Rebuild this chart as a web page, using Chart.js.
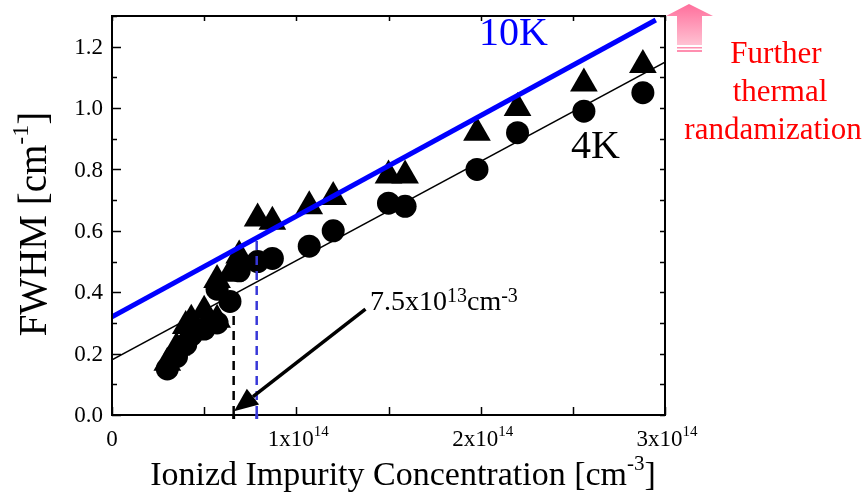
<!DOCTYPE html>
<html>
<head>
<meta charset="utf-8">
<script src="https://cdn.jsdelivr.net/npm/chart.js@4/dist/chart.umd.min.js"></script>
<style>
  html, body { margin: 0; padding: 0; background: #fff; }
  #wrap { width: 868px; height: 502px; }
</style>
</head>
<body>
<div id="wrap"><canvas id="fwhmChart" width="868" height="502"></canvas></div>
<script>
// ionized impurity concentration, in units of 1e14 cm^-3
const conc = [0.30, 0.35, 0.40, 0.43, 0.50, 0.57, 0.57, 0.64, 0.69, 0.79, 0.87, 1.07, 1.20, 1.50, 1.59, 1.98, 2.20, 2.56, 2.88];
const fwhm4K = [0.15, 0.19, 0.23, 0.26, 0.28, 0.30, 0.41, 0.37, 0.47, 0.50, 0.51, 0.55, 0.60, 0.69, 0.68, 0.80, 0.92, 0.99, 1.05];
const fwhm10K = [0.17, 0.22, 0.29, 0.31, 0.34, 0.31, 0.44, 0.46, 0.52, 0.64, 0.63, 0.68, 0.71, 0.78, 0.78, 0.92, 1.00, 1.08, 1.14];

// fitted lines and marker lines
const fit4K = [[0, 0.18], [3, 1.15]];
const fit10K = [[0, 0.32], [2.95, 1.287]];
const markBlack = [[0.66, 0], [0.66, 0.34]];
const markBlue = [[0.785, 0], [0.785, 0.58]];

const yTicks = [0, 0.2, 0.4, 0.6, 0.8, 1.0, 1.2];
const xTicks = [0, 1, 2, 3];
const xTickLabels = ['0', '1x10', '2x10', '3x10'];
const xTickExp = ['', '14', '14', '14'];

const SERIF = '"Liberation Serif", "Times New Roman", serif';

const toPts = (xs, ys) => xs.map((x, i) => ({ x: x, y: ys[i] }));
const pairPts = arr => arr.map(p => ({ x: p[0], y: p[1] }));

// draws text made of normal and superscript parts, left aligned from x
const drawParts = (ctx, parts, x, y) => {
  parts.forEach(p => {
    ctx.font = p.size + 'px ' + SERIF;
    ctx.fillText(p.t, x, y - (p.up || 0));
    x += ctx.measureText(p.t).width;
  });
};
const partsWidth = (ctx, parts) => parts.reduce((w, p) => {
  ctx.font = p.size + 'px ' + SERIF;
  return w + ctx.measureText(p.t).width;
}, 0);

const framePlugin = {
  id: 'frameAndText',
  afterDraw(chart) {
    const ctx = chart.ctx;
    const a = chart.chartArea;
    const xs = chart.scales.x;
    const ys = chart.scales.y;
    ctx.save();

    // frame
    ctx.strokeStyle = '#000';
    ctx.lineWidth = 2;
    ctx.strokeRect(a.left, a.top, a.right - a.left, a.bottom - a.top);

    // inward ticks
    ctx.lineWidth = 1.5;
    ctx.beginPath();
    for (let v = 0; v <= 1.3001; v += 0.1) {
      const py = Math.round(ys.getPixelForValue(v)) + 0.5;
      const major = Math.abs(v * 5 - Math.round(v * 5)) < 1e-6;
      ctx.moveTo(a.left, py); ctx.lineTo(a.left + (major ? 9 : 5), py);
      ctx.moveTo(a.right, py); ctx.lineTo(a.right - 5, py);
    }
    for (let v = 0; v <= 3.0001; v += 0.5) {
      const px = Math.round(xs.getPixelForValue(v)) + 0.5;
      ctx.moveTo(px, a.bottom); ctx.lineTo(px, a.bottom - 8);
      ctx.moveTo(px, a.top); ctx.lineTo(px, a.top + 5);
    }
    ctx.stroke();

    // dashed marker feet on the axis
    ctx.lineWidth = 3;
    ctx.strokeStyle = '#000';
    ctx.beginPath();
    ctx.moveTo(xs.getPixelForValue(markBlack[0][0]), a.bottom - 1);
    ctx.lineTo(xs.getPixelForValue(markBlack[0][0]), a.bottom + 4);
    ctx.stroke();
    ctx.strokeStyle = '#3838d8';
    ctx.beginPath();
    ctx.moveTo(xs.getPixelForValue(markBlue[0][0]), a.bottom - 1);
    ctx.lineTo(xs.getPixelForValue(markBlue[0][0]), a.bottom + 4);
    ctx.stroke();

    // tick labels
    ctx.fillStyle = '#000';
    ctx.font = '23px ' + SERIF;
    ctx.textAlign = 'right';
    ctx.textBaseline = 'middle';
    yTicks.forEach(v => {
      ctx.fillText(v.toFixed(1), a.left - 9, ys.getPixelForValue(v) + 1);
    });
    ctx.textAlign = 'left';
    ctx.textBaseline = 'alphabetic';
    xTicks.forEach((v, i) => {
      const parts = [{ t: xTickLabels[i], size: 23 }];
      if (xTickExp[i]) parts.push({ t: xTickExp[i], size: 15, up: 10 });
      const w = partsWidth(ctx, parts);
      drawParts(ctx, parts, xs.getPixelForValue(v) - w / 2 + (xTickExp[i] ? 2 : 0), a.bottom + 31);
    });

    // axis titles
    const xTitle = [
      { t: 'Ionizd Impurity Concentration [cm', size: 34 },
      { t: '-3', size: 21, up: 15 },
      { t: ']', size: 34 }
    ];
    drawParts(ctx, xTitle, 403 - partsWidth(ctx, xTitle) / 2, 485);

    const yTitle = [
      { t: 'FWHM [cm', size: 39 },
      { t: '-1', size: 24, up: 18 },
      { t: ']', size: 39 }
    ];
    ctx.save();
    ctx.translate(46, 224);
    ctx.rotate(-Math.PI / 2);
    drawParts(ctx, yTitle, -partsWidth(ctx, yTitle) / 2, 0);
    ctx.restore();

    // series labels
    ctx.fillStyle = '#0000ff';
    ctx.font = '40px ' + SERIF;
    ctx.fillText('10K', 479, 45);
    ctx.fillStyle = '#000';
    ctx.fillText('4K', 571, 158);

    // concentration annotation with arrow
    drawParts(ctx, [
      { t: '7.5x10', size: 28 },
      { t: '13', size: 20, up: 8 },
      { t: 'cm', size: 28 },
      { t: '-3', size: 20, up: 8 }
    ], 370, 310);

    const ax0 = xs.getPixelForValue(1.375), ay0 = ys.getPixelForValue(0.345);
    const ax1 = xs.getPixelForValue(0.662), ay1 = ys.getPixelForValue(0.012);
    const ang = Math.atan2(ay1 - ay0, ax1 - ax0);
    const headLen = 24, headW = 10;
    const bx = ax1 - Math.cos(ang) * headLen, by = ay1 - Math.sin(ang) * headLen;
    ctx.strokeStyle = '#000';
    ctx.lineWidth = 3.5;
    ctx.beginPath();
    ctx.moveTo(ax0, ay0);
    ctx.lineTo(bx, by);
    ctx.stroke();
    ctx.fillStyle = '#000';
    ctx.beginPath();
    ctx.moveTo(ax1, ay1);
    ctx.lineTo(bx + Math.sin(ang) * headW, by - Math.cos(ang) * headW);
    ctx.lineTo(bx - Math.sin(ang) * headW, by + Math.cos(ang) * headW);
    ctx.closePath();
    ctx.fill();

    // pink block arrow
    const grad = ctx.createLinearGradient(0, 4, 0, 52);
    grad.addColorStop(0, '#ff6f9c');
    grad.addColorStop(1, '#ffd0dc');
    ctx.fillStyle = grad;
    ctx.beginPath();
    ctx.moveTo(689, 4);
    ctx.lineTo(713, 16);
    ctx.lineTo(702, 16);
    ctx.lineTo(702, 45);
    ctx.lineTo(677, 45);
    ctx.lineTo(677, 16);
    ctx.lineTo(666, 16);
    ctx.closePath();
    ctx.fill();
    ctx.fillStyle = '#ff8fb0';
    ctx.fillRect(677, 47, 25, 1.5);
    ctx.fillRect(677, 50, 25, 2);

    // red note
    ctx.fillStyle = '#ff0000';
    ctx.font = '31px ' + SERIF;
    ctx.textAlign = 'center';
    ctx.fillText('Further', 776, 63);
    ctx.fillText('thermal', 780, 101);
    ctx.fillText('randamization', 773, 139);

    ctx.restore();
  }
};

const data = {
  datasets: [
    {
      label: '10K fit',
      data: pairPts(fit10K),
      showLine: true,
      borderColor: '#0000ff',
      borderWidth: 5,
      pointRadius: 0
    },
    {
      label: '4K fit',
      data: pairPts(fit4K),
      showLine: true,
      borderColor: '#000',
      borderWidth: 1.5,
      pointRadius: 0
    },
    {
      label: 'blue mark',
      data: pairPts(markBlue),
      showLine: true,
      borderColor: '#3838d8',
      borderWidth: 2.5,
      borderDash: [9, 6],
      pointRadius: 0
    },
    {
      label: 'black mark',
      data: pairPts(markBlack),
      showLine: true,
      borderColor: '#000',
      borderWidth: 2.5,
      borderDash: [9, 6],
      pointRadius: 0
    },
    {
      label: '10K',
      data: toPts(conc, fwhm10K),
      pointStyle: 'triangle',
      pointRadius: 16,
      backgroundColor: '#000',
      borderColor: '#000',
      borderWidth: 0
    },
    {
      label: '4K',
      data: toPts(conc, fwhm4K),
      pointStyle: 'circle',
      pointRadius: 11.5,
      backgroundColor: '#000',
      borderColor: '#000',
      borderWidth: 0
    }
  ]
};

const config = {
  type: 'scatter',
  data: data,
  options: {
    responsive: false,
    animation: false,
    layout: { padding: { left: 112, right: 203, top: 9, bottom: 87 } },
    scales: {
      x: { type: 'linear', min: 0, max: 3, display: false },
      y: { type: 'linear', min: 0, max: 1.3, display: false }
    },
    plugins: {
      legend: { display: false },
      tooltip: { enabled: false }
    },
    elements: { line: { tension: 0 } }
  },
  plugins: [framePlugin]
};

const fwhmChart = new Chart(document.getElementById('fwhmChart'), config);
</script>
</body>
</html>
